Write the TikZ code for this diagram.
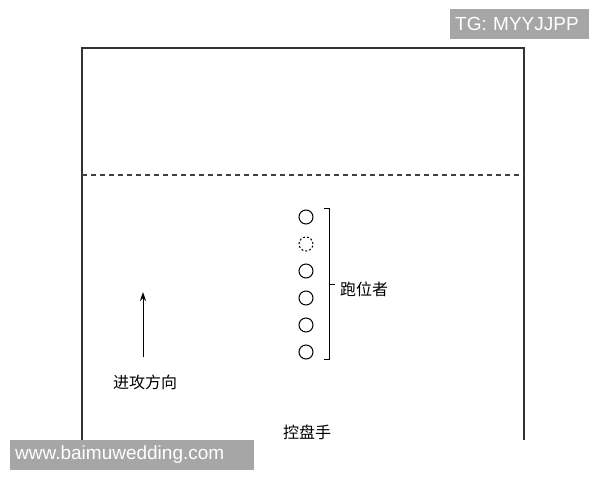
\documentclass[tikz,border=0pt]{standalone}
\usepackage{fontspec}
\setsansfont{Liberation Sans}
\newfontfamily\cjk{Noto Sans CJK SC}
\usetikzlibrary{arrows.meta}
\begin{document}
\begin{tikzpicture}[
    x=1pt, y=-1pt,
    % court lines
    court/.style={line width=1.4pt, black!80},
    halfline/.style={line width=1.1pt, black!75, dash pattern=on 5pt off 4pt},
    % players and texts
    player/.style={circle, draw, line width=1pt, minimum size=14pt, inner sep=0pt},
    ghost/.style={dash pattern=on 2pt off 2pt},
    cntext/.style={font=\cjk\fontsize{16}{16}\selectfont, inner sep=0pt},
    watermark/.style={fill=black!35, text=white, font=\sffamily\fontsize{19}{19}\selectfont,
        anchor=west, align=left, inner xsep=5pt, inner ysep=0pt, minimum height=30pt}
]
    \useasboundingbox (0,0) rectangle (600,480);

    % --- Court ---
    \coordinate (courtBL) at (82,440);
    \coordinate (courtTR) at (524,48);
    \coordinate (courtBR) at (524,440);
    \draw[court] (courtBL) |- (courtTR) -- (courtBR);

    \coordinate (halfL) at (82,175);
    \coordinate (halfR) at (524,175);
    \draw[halfline] (halfL) -- (halfR);

    % --- Runners ---
    \foreach \i/\y/\look in {1/217/solid, 2/244/ghost, 3/271/solid,
                             4/298/solid, 5/325/solid, 6/352/solid}
        \node[player, \look] (r\i) at (306,\y) {};

    \coordinate (brTop) at (329,208);
    \coordinate (brBot) at (329,359);
    \coordinate (brMid) at (329,284);
    \draw[line width=1pt] ([xshift=-5pt]brTop) -- (brTop) -- (brBot) -- ([xshift=-5pt]brBot);
    \node[cntext, anchor=west] (runners) at (340,289) {跑位者};
    \draw[line width=1pt] (brMid) -- ++(6,0);

    % --- Direction of attack ---
    \node[cntext] (attack) at (145,382) {进攻方向};
    \coordinate (arrTail) at (143,357);
    \coordinate (arrHead) at (143,292);
    \draw[line width=1pt, -{Stealth[length=9pt, width=6pt]}] (arrTail) -- (arrHead);

    % --- Ball handler ---
    \node[cntext] (handler) at (307,432) {控盘手};

    % --- Watermarks ---
    \node[watermark, text width=129pt] (tg) at (450,24) {TG: MYYJJPP};
    \node[watermark, text width=234pt] (site) at (10,455) {www.baimuwedding.com};
\end{tikzpicture}
\end{document}
